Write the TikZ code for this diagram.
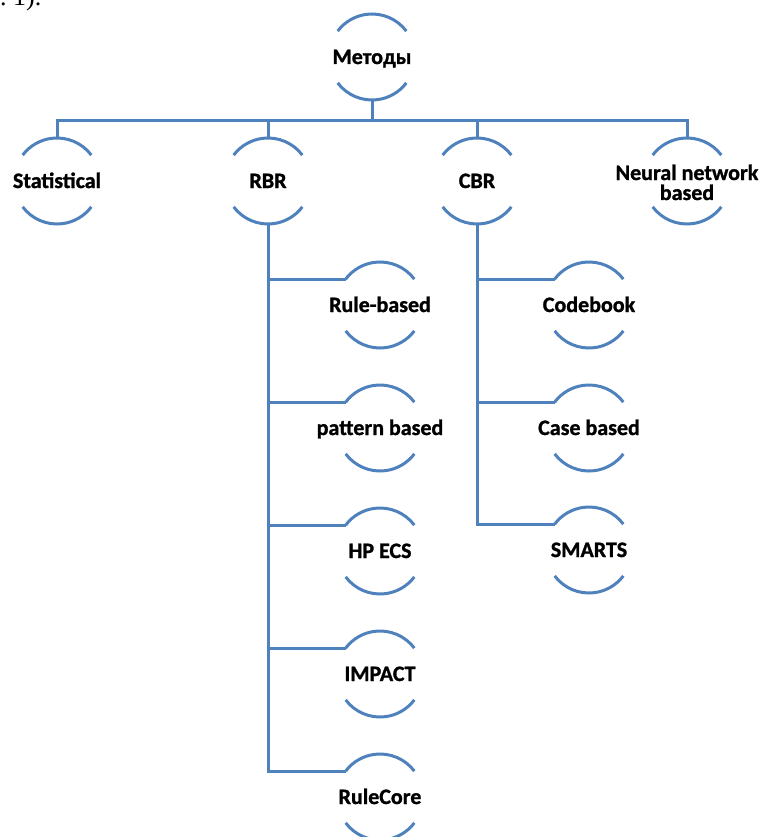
\documentclass[tikz,border=0pt]{standalone}
\usepackage{fontspec}
\setmainfont{Carlito}[BoldFeatures={FakeBold=1.2}]
\newfontfamily\bodyfont{Liberation Serif}
\usepackage{tikz}
\definecolor{smblue}{HTML}{4F81BD}
\newcommand{\rad}{43}
\tikzset{
  meth/.style={font=\fontsize{22}{20}\selectfont\bfseries,align=center,inner sep=0pt,text height=14pt,text depth=0pt},
  ring/.style={line width=3pt,smblue},
  link/.style={line width=3pt,smblue},
  bodytxt/.style={font=\bodyfont\fontsize{26}{26}\selectfont,inner sep=0pt,anchor=base west}
}
\begin{document}
\begin{tikzpicture}[x=1pt,y=1pt]
  \useasboundingbox (0,0) rectangle (761,-837);
  \node[bodytxt] (prev) at (0,-6) {.\ 1).};

  % levels
  \node[meth] (met) at (372,-57) {Методы};
  \node[meth] (stat) at (57,-181) {Statistical};
  \node[meth] (rbr) at (268,-181) {RBR};
  \node[meth] (cbr) at (477,-181) {CBR};
  \node[meth,text height=38pt] (neur) at (687,-181) {Neural network\\based};

  \node[meth] (rule) at (380,-305) {Rule-based};
  \node[meth] (patt) at (380,-428) {pattern based};
  \node[meth] (hpecs) at (380,-551) {HP ECS};
  \node[meth] (impact) at (380,-674) {IMPACT};
  \node[meth] (rcore) at (380,-797) {RuleCore};

  \node[meth] (code) at (589,-305) {Codebook};
  \node[meth] (caseb) at (589,-428) {Case based};
  \node[meth] (smarts) at (589,-550) {SMARTS};

  \foreach \n in {met,stat,rbr,cbr,neur,rule,patt,hpecs,impact,rcore,code,caseb,smarts}{
    \draw[ring] ([shift={(37:\rad pt)}]\n.center) arc[start angle=37,end angle=143,radius=\rad pt];
    \draw[ring] ([shift={(217:\rad pt)}]\n.center) arc[start angle=217,end angle=323,radius=\rad pt];
    \coordinate (\n-in) at ([shift={(143:\rad pt)}]\n.center);
  }

  \coordinate (bus) at (0,-121);
  \draw[link] ([yshift=\rad pt]stat.center) |- (bus -| neur) -- ([yshift=\rad pt]neur.center);
  \draw[link] ([yshift=-\rad pt]met.center) -- (bus -| met);
  \draw[link] ([yshift=\rad pt]rbr.center) -- (bus -| rbr);
  \draw[link] ([yshift=\rad pt]cbr.center) -- (bus -| cbr);

  \draw[link] ([yshift=-\rad pt]rbr.center) |- (rcore-in);
  \foreach \c in {rule,patt,hpecs,impact}
    \draw[link] (\c-in -| rbr) -- (\c-in);
  \draw[link] ([yshift=-\rad pt]cbr.center) |- (smarts-in);
  \foreach \c in {code,caseb}
    \draw[link] (\c-in -| cbr) -- (\c-in);
\end{tikzpicture}
\end{document}
